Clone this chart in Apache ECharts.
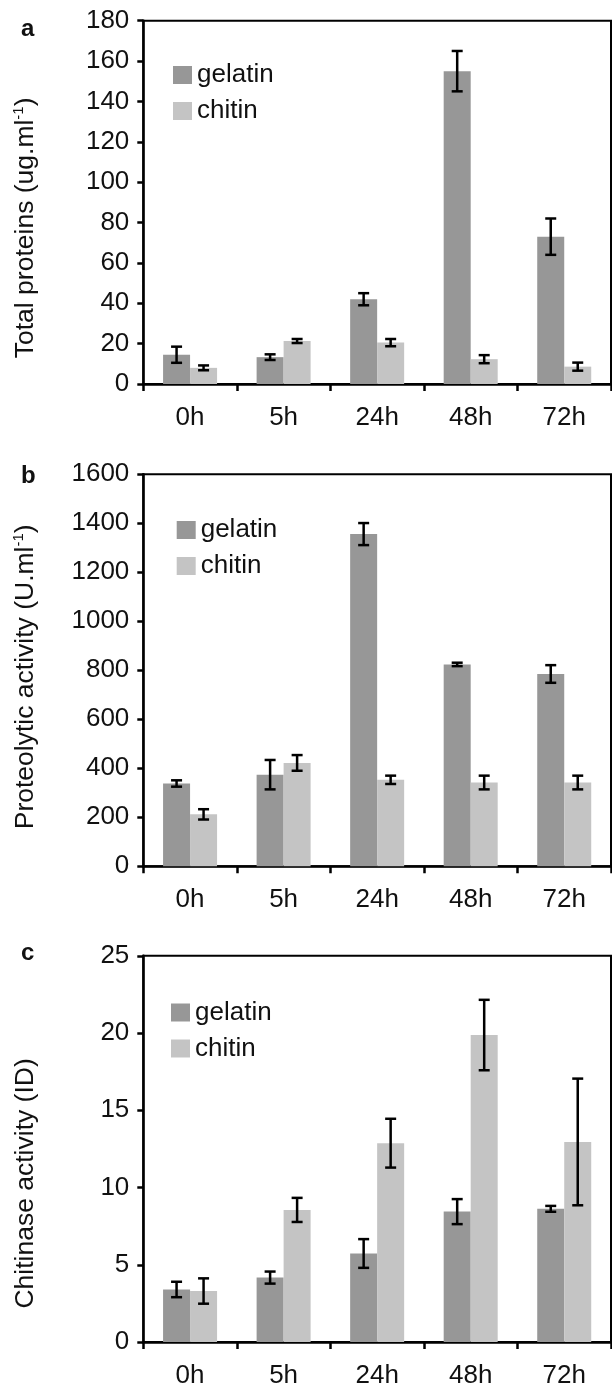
<!DOCTYPE html>
<html>
<head>
<meta charset="utf-8">
<script src="https://cdn.jsdelivr.net/npm/echarts@6/dist/echarts.min.js"></script>
<style>
html,body{margin:0;padding:0;background:#fff;}
#main{width:612px;height:1389px;}
</style>
</head>
<body>
<div id="main"></div>
<script>
// ---- data ----
const categories = ['0h', '5h', '24h', '48h', '72h'];
const seriesNames = ['gelatin', 'chitin'];

// panel a: Total proteins (ug.ml-1)
const proteinGelatin    = [14.5, 13.3, 42.0, 155.0, 73.0];
const proteinGelatinErr = [4.0, 1.4, 3.0, 10.0, 9.0];
const proteinChitin     = [8.0, 21.3, 20.5, 12.3, 8.6];
const proteinChitinErr  = [1.2, 1.0, 1.8, 2.0, 2.0];

// panel b: Proteolytic activity (U.ml-1)
const proteoGelatin    = [338, 374, 1356, 824, 785];
const proteoGelatinErr = [13, 60, 45, 7, 36];
const proteoChitin     = [212, 422, 353, 342, 342];
const proteoChitinErr  = [21, 32, 17, 28, 28];

// panel c: Chitinase activity (ID)
const chitinaseGelatin    = [3.4, 4.17, 5.73, 8.44, 8.62];
const chitinaseGelatinErr = [0.5, 0.39, 0.93, 0.81, 0.19];
const chitinaseChitin     = [3.3, 8.55, 12.87, 19.87, 12.95];
const chitinaseChitinErr  = [0.82, 0.78, 1.58, 2.28, 4.1];

// axis ranges
const yMax = [180, 1600, 25];
const yInterval = [20, 200, 5];
const yNames = ['Total proteins (ug.ml{sup|-1})', 'Proteolytic activity (U.ml{sup|-1})', 'Chitinase activity (ID)'];
const panelLetters = ['a', 'b', 'c'];

// ---- styling / layout ----
const FONT = 'Liberation Sans, Arial, Helvetica, sans-serif';
const TXT = '#111';
const C_GEL = '#979797';
const C_CHI = '#c4c4c4';
const BAR_W = 27;

const grids = [
  {left: 143.3, top: 20.7, width: 467.7, height: 363.3},
  {left: 143.3, top: 474.3, width: 467.7, height: 392},
  {left: 143.3, top: 955.8, width: 467.7, height: 387.5}
];
const namePadRight = [51, 13, 69];
const legendPos = [
  {left: 168, top: 52},
  {left: 171.7, top: 507},
  {left: 166, top: 989.5}
];
const letterTop = [12, 459, 936];

const panels = [
  [proteinGelatin, proteinGelatinErr, proteinChitin, proteinChitinErr],
  [proteoGelatin, proteoGelatinErr, proteoChitin, proteoChitinErr],
  [chitinaseGelatin, chitinaseGelatinErr, chitinaseChitin, chitinaseChitinErr]
];

function errSeries(idx, name, values, errs, offset) {
  return {
    type: 'custom',
    name: name,
    xAxisIndex: idx,
    yAxisIndex: idx,
    silent: true,
    z: 10,
    encode: {x: 0, y: [1, 2]},
    data: values.map((v, i) => [i, v - errs[i], v + errs[i]]),
    renderItem: function (params, api) {
      const x = api.value(0);
      const lo = api.coord([x, api.value(1)]);
      const hi = api.coord([x, api.value(2)]);
      const cx = lo[0] + offset;
      const st = {stroke: '#000', lineWidth: 2.5};
      const cap = 5.5;
      return {
        type: 'group',
        children: [
          {type: 'line', shape: {x1: cx, y1: hi[1], x2: cx, y2: lo[1]}, style: st},
          {type: 'line', shape: {x1: cx - cap, y1: hi[1], x2: cx + cap, y2: hi[1]}, style: st},
          {type: 'line', shape: {x1: cx - cap, y1: lo[1], x2: cx + cap, y2: lo[1]}, style: st}
        ]
      };
    }
  };
}

const option = {
  animation: false,
  backgroundColor: '#fff',
  title: panelLetters.map((t, i) => ({
    text: t, left: 16, top: letterTop[i],
    textStyle: {fontFamily: FONT, fontSize: 24, fontWeight: 'bold', color: TXT}
  })),
  legend: legendPos.map((p, i) => ({
    data: seriesNames,
    orient: 'vertical',
    left: p.left, top: p.top,
    itemWidth: 19, itemHeight: 18, itemGap: 0,
    icon: 'rect',
    selectedMode: false,
    textStyle: {fontFamily: FONT, fontSize: 26, color: TXT, lineHeight: 26, padding: [0, 0, 10, 0]}
  })),
  grid: grids.map(g => Object.assign({show: true, borderColor: '#000', borderWidth: 2, backgroundColor: 'transparent'}, g)),
  xAxis: grids.map((g, i) => ({
    type: 'category', gridIndex: i, data: categories,
    axisLine: {lineStyle: {color: '#000', width: 2.5}},
    axisTick: {show: true, length: 7, lineStyle: {color: '#000', width: 2.5}},
    axisLabel: {fontFamily: FONT, fontSize: 26, color: TXT, margin: 21},
    splitLine: {show: false}
  })),
  yAxis: grids.map((g, i) => ({
    type: 'value', gridIndex: i, min: 0, max: yMax[i], interval: yInterval[i],
    name: yNames[i], nameLocation: 'middle', nameRotate: 90, nameGap: 104,
    nameTextStyle: {
      fontFamily: FONT, fontSize: 26.5, color: TXT, lineHeight: 28,
      padding: [0, namePadRight[i], 0, 0],
      rich: {sup: {fontFamily: FONT, fontSize: 15, color: TXT, verticalAlign: 'top', lineHeight: 12}}
    },
    axisLine: {show: true, lineStyle: {color: '#000', width: 2.5}},
    axisTick: {show: true, length: 6, lineStyle: {color: '#000', width: 2.5}},
    axisLabel: {fontFamily: FONT, fontSize: 26, color: TXT, margin: 14, formatter: v => String(v)},
    splitLine: {show: false}
  })),
  series: []
};

panels.forEach((p, i) => {
  option.series.push({
    type: 'bar', name: 'gelatin', xAxisIndex: i, yAxisIndex: i, data: p[0],
    barWidth: BAR_W, barGap: '0%', itemStyle: {color: C_GEL}, silent: true
  });
  option.series.push({
    type: 'bar', name: 'chitin', xAxisIndex: i, yAxisIndex: i, data: p[2],
    barWidth: BAR_W, barGap: '0%', itemStyle: {color: C_CHI}, silent: true
  });
  option.series.push(errSeries(i, 'gelatin', p[0], p[1], -BAR_W / 2));
  option.series.push(errSeries(i, 'chitin', p[2], p[3], BAR_W / 2));
});

const chart = echarts.init(document.getElementById('main'), null, {renderer: 'canvas'});
chart.setOption(option);
</script>
</body>
</html>
